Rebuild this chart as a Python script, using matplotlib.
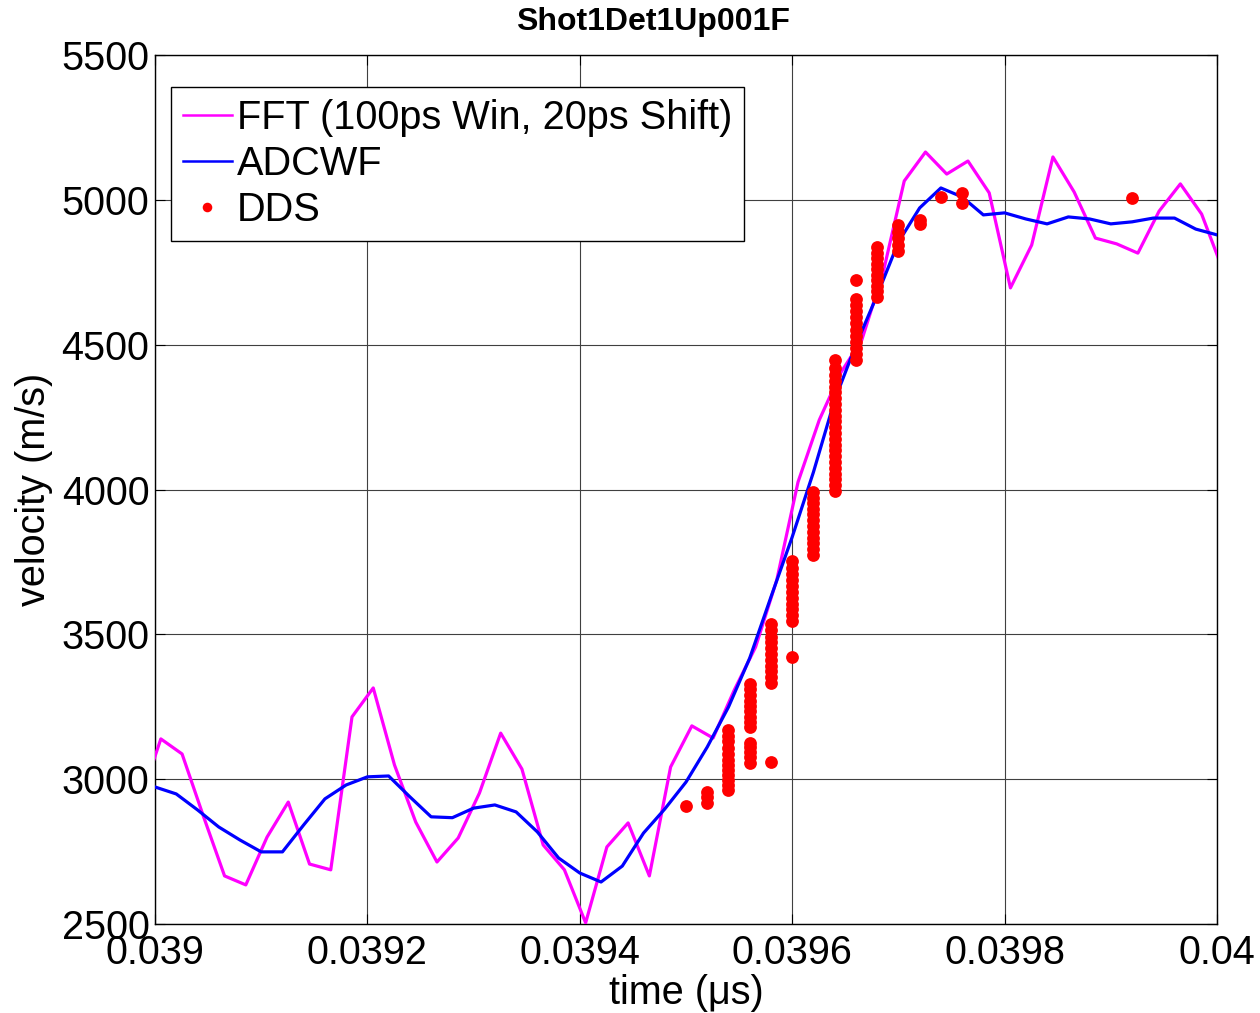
import matplotlib
matplotlib.use("Agg")
import matplotlib.pyplot as plt
from matplotlib.ticker import FixedLocator, FixedFormatter

plt.rcParams['font.family'] = ['Liberation Sans', 'DejaVu Sans']

# ---------------- data ----------------
title = "Shot1Det1Up001F"
xlabel = "time (\u03bcs)"
ylabel = "velocity (m/s)"

# FFT (100ps window, 20ps shift)
fft_t0 = 0.0389855
fft_dt = 0.00002
fft_v = [2920, 3139, 3087, 2873, 2666, 2635, 2800, 2921, 2707, 2687,
         3215, 3315, 3049, 2852, 2714, 2797, 2952, 3159, 3035, 2773,
         2687, 2504, 2766, 2849, 2666, 3042, 3184, 3142, 3308, 3456,
         3688, 4026, 4240, 4402, 4516, 4747, 5065, 5165, 5089, 5134,
         5024, 4696, 4844, 5148, 5027, 4868, 4848, 4816, 4961, 5055,
         4951, 4758]

# ADCWF
adc_t0 = 0.039
adc_dt = 0.00002
adc_v = [2973, 2949, 2894, 2835, 2790, 2749, 2749, 2842, 2932, 2980,
         3008, 3011, 2939, 2870, 2867, 2900, 2911, 2887, 2818, 2728,
         2676, 2645, 2700, 2814, 2897, 2990, 3111, 3249, 3418, 3629,
         3836, 4060, 4309, 4499, 4671, 4854, 4972, 5041, 5010, 4948,
         4955, 4934, 4917, 4941, 4934, 4917, 4924, 4937, 4937, 4899,
         4879]

# DDS: sample times (us) and the velocities measured at each time
dds_times = [0.03950, 0.03952, 0.03954, 0.03956, 0.03958, 0.03960,
             0.03962, 0.03964, 0.03966, 0.03968, 0.03970, 0.03972,
             0.03974, 0.03976, 0.03992]
dds_vals = [
    [2908],
    [2918, 2937, 2956],
    [2963, 2980, 2998, 3015, 3032, 3048, 3066, 3087, 3108, 3132, 3150, 3170],
    [3056, 3075, 3095, 3112, 3125, 3180, 3198, 3216, 3234, 3252, 3270,
     3290, 3310, 3329],
    [3059, 3332, 3352, 3372, 3392, 3412, 3432, 3452, 3472, 3492, 3514, 3536],
    [3422, 3546, 3566, 3586, 3606, 3626, 3646, 3666, 3686, 3708, 3730, 3753],
    [3774, 3794, 3814, 3834, 3854, 3874, 3894, 3914, 3934, 3954, 3972, 3991],
    [3995, 4015, 4035, 4055, 4075, 4095, 4115, 4135, 4155, 4175, 4195,
     4215, 4235, 4255, 4275, 4295, 4315, 4335, 4355, 4375, 4395, 4420, 4447],
    [4447, 4467, 4488, 4509, 4530, 4552, 4574, 4596, 4617, 4638, 4658, 4723],
    [4665, 4684, 4703, 4722, 4741, 4760, 4779, 4798, 4818, 4837],
    [4823, 4845, 4868, 4890, 4913],
    [4915, 4930],
    [5010],
    [4990, 5025],
    [5006],
]

xticks = [0.039, 0.0392, 0.0394, 0.0396, 0.0398, 0.040]
xticklabels = ["0.039", "0.0392", "0.0394", "0.0396", "0.0398", "0.04"]
yticks = [2500, 3000, 3500, 4000, 4500, 5000, 5500]
yticklabels = ["2500", "3000", "3500", "4000", "4500", "5000", "5500"]

legend_labels = ["FFT (100ps Win, 20ps Shift)", "ADCWF", "DDS"]

# ---------------- figure ----------------
fig = plt.figure(figsize=(12.6, 10.13), dpi=100)
ax = fig.add_axes([155 / 1260, 1 - 924 / 1013, 1062 / 1260, 869 / 1013])

fft_t = [fft_t0 + i * fft_dt for i in range(len(fft_v))]
adc_t = [adc_t0 + i * adc_dt for i in range(len(adc_v))]
dds_x = []
dds_y = []
for t, vals in zip(dds_times, dds_vals):
    for v in vals:
        dds_x.append(t)
        dds_y.append(v)

ax.plot(fft_t, fft_v, color='#FF00FF', lw=2.3, label=legend_labels[0], zorder=3)
ax.plot(adc_t, adc_v, color='#0000FF', lw=2.3, label=legend_labels[1], zorder=4)
ax.plot(dds_x, dds_y, linestyle='none', marker='o', color='#FF0000',
        markersize=9.2, markeredgewidth=0, label=legend_labels[2], zorder=5)

ax.set_xlim(0.039, 0.040)
ax.set_ylim(2500, 5500)
ax.xaxis.set_major_locator(FixedLocator(xticks))
ax.xaxis.set_major_formatter(FixedFormatter(xticklabels))
ax.yaxis.set_major_locator(FixedLocator(yticks))
ax.yaxis.set_major_formatter(FixedFormatter(yticklabels))

ax.grid(True, color='0.25', linewidth=0.8, linestyle='-')
ax.set_axisbelow(True)
ax.tick_params(direction='in', length=7, width=0.8, top=True, right=True,
               labelsize=28.5, colors='black')
ax.tick_params(axis='x', pad=7)
ax.tick_params(axis='y', pad=4)
for s in ax.spines.values():
    s.set_linewidth(1.0)
    s.set_color('black')

ax.set_xlabel(xlabel, fontsize=28.5)
ax.set_ylabel(ylabel, fontsize=28.5)
ax.xaxis.set_label_coords(0.5, -0.058)
ax.yaxis.set_label_coords(-0.096, 0.5)

fig.text(653 / 1260, 1 - 22 / 1013, title, fontsize=23, fontweight='bold',
         ha='center', va='center')

leg = ax.legend(loc='upper left', bbox_to_anchor=((171 - 155) / 1062, 1 - (87 - 55) / 869),
                borderaxespad=0, fontsize=28.6, frameon=True, fancybox=False,
                edgecolor='black', framealpha=1, handlelength=1.23,
                handletextpad=0.12, borderpad=0.3, labelspacing=0.2,
                markerscale=0.75)
leg.get_frame().set_linewidth(1.0)
for h in leg.get_lines()[:2]:
    h.set_linewidth(1.8)

fig.savefig("out.png", dpi=100)
